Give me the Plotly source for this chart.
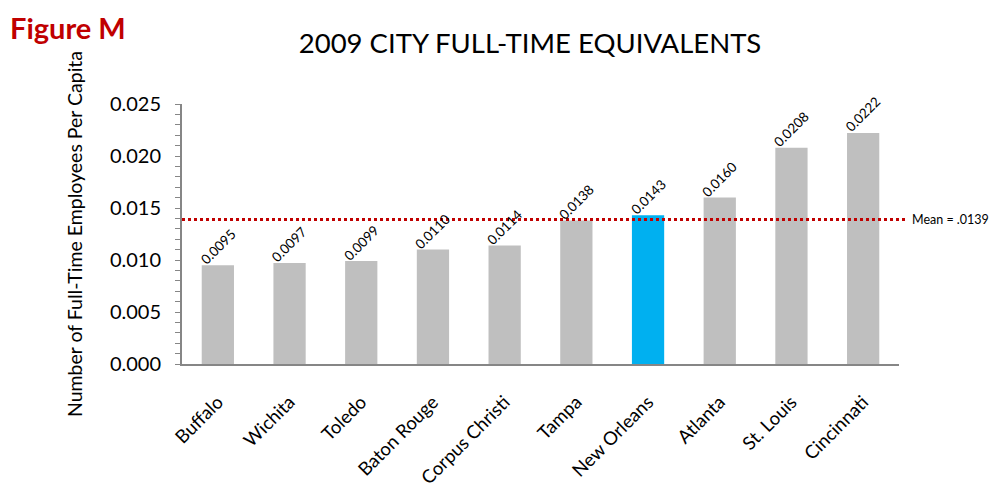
import plotly.graph_objects as go

cities = ["Buffalo", "Wichita", "Toledo", "Baton Rouge", "Corpus Christi",
          "Tampa", "New Orleans", "Atlanta", "St. Louis", "Cincinnati"]
fte_per_capita = [0.0095, 0.0097, 0.0099, 0.0110, 0.0114,
                  0.0138, 0.0143, 0.0160, 0.0208, 0.0222]
mean_value = 0.0139
highlight_city = "New Orleans"
y_ticks = [0.000, 0.005, 0.010, 0.015, 0.020, 0.025]

FONT = "Lato"
colors = ["#00B0F0" if c == highlight_city else "#BFBFBF" for c in cities]

# page body has an 8px margin, so the figure is sized/offset accordingly
W, H = 994, 479
L, R, T, B = 174, 103, 96, 123

fig = go.Figure()
fig.add_trace(go.Bar(
    x=cities, y=fte_per_capita, marker=dict(color=colors, line=dict(width=0)),
    width=0.45, showlegend=False, hoverinfo="x+y"))

annotations = []
for c, v in zip(cities, fte_per_capita):
    annotations.append(dict(
        x=c, y=v, xref="x", yref="y", text=f"{v:.4f}", showarrow=False,
        textangle=-45, xanchor="center", yanchor="bottom", yshift=-5,
        font=dict(family=FONT, size=13.5, color="#000000")))

annotations.append(dict(
    x=1.016, y=mean_value, xref="paper", yref="y", text="Mean = .0139",
    showarrow=False, xanchor="left", yanchor="middle",
    font=dict(family=FONT, size=12.5, color="#000000")))

annotations.append(dict(
    x=(0.5 - L) / (W - L - R), y=(H - 0.5 - B) / (H - T - B), xref="paper", yref="paper",
    text="<b>Figure M</b>", showarrow=False, borderpad=0,
    xanchor="left", yanchor="top",
    font=dict(family=FONT, size=29, color="#C00000")))

fig.update_layout(
    width=W, height=H,
    margin=dict(l=L, r=R, t=T, b=B, autoexpand=False),
    paper_bgcolor="white", plot_bgcolor="white",
    title=dict(text="2009 CITY FULL-TIME EQUIVALENTS", x=522 / W, xanchor="center",
               y=1 - 35 / H, yanchor="middle",
               font=dict(family=FONT, size=27.5, color="#000000")),
    shapes=[dict(type="line", xref="paper", yref="y", x0=0, x1=1.01,
                 y0=mean_value, y1=mean_value,
                 line=dict(color="#C00000", width=3, dash="dot"))],
    annotations=annotations,
)

fig.update_xaxes(
    type="category", tickangle=-45, showline=True, linecolor="#868686",
    linewidth=2, ticks="", showgrid=False, automargin=False,
    ticklabelstandoff=18,
    tickfont=dict(family=FONT, size=18.5, color="#000000"))
fig.update_yaxes(
    range=[0, 0.025], tickvals=y_ticks, tickformat=".3f",
    showline=True, linecolor="#868686", linewidth=2, automargin=False,
    ticks="outside", ticklen=5, tickcolor="#868686", tickwidth=1,
    minor=dict(dtick=0.001, ticks="outside", ticklen=5, tickcolor="#868686", tickwidth=1),
    showgrid=False, zeroline=False, ticklabelstandoff=10,
    tickfont=dict(family=FONT, size=20, color="#000000"),
    title=dict(text="Number of Full-Time Employees Per Capita", standoff=22,
               font=dict(family=FONT, size=19.5, color="#000000")))

fig.write_html("out.html")
